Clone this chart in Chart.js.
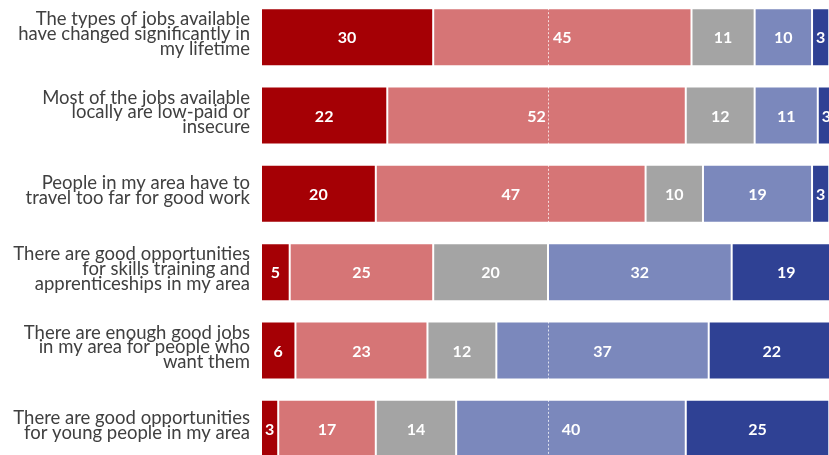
<!DOCTYPE html>
<html>
<head>
<meta charset="utf-8">
<script src="https://cdn.jsdelivr.net/npm/chart.js@4"></script>
<style>
  html, body { margin: 0; padding: 0; background: #fff; overflow: hidden; }
  #wrap { position: absolute; left: 0; top: -2px; width: 840px; height: 470px; }
</style>
</head>
<body>
<div id="wrap"><canvas id="myChart"></canvas></div>
<script>
const statements = [
  ["The types of jobs available", "have changed significantly in", "my lifetime"],
  ["Most of the jobs available", "locally are low-paid or", "insecure"],
  ["People in my area have to", "travel too far for good work"],
  ["There are good opportunities", "for skills training and", "apprenticeships in my area"],
  ["There are enough good jobs", "in my area for people who", "want them"],
  ["There are good opportunities", "for young people in my area"],
];
const strongAgree = [30, 22, 20, 5, 6, 3];
const agree = [45, 52, 47, 25, 23, 17];
const neither = [11, 12, 10, 20, 12, 14];
const disagree = [10, 11, 19, 32, 37, 40];
const strongDisagree = [3, 3, 3, 19, 22, 25];
const seriesNames = ["Strongly agree", "Agree", "Neither", "Disagree", "Strongly disagree"];

const colors = ["#a50005", "#d67576", "#a4a4a4", "#7b88bc", "#2f4194"];

// numbers in the middle of each segment
const segmentLabels = {
  id: "segmentLabels",
  afterDatasetsDraw(chart) {
    const ctx = chart.ctx;
    ctx.save();
    ctx.fillStyle = "#fff";
    ctx.font = "bold 16px Lato";
    ctx.textAlign = "center";
    ctx.textBaseline = "middle";
    chart.data.datasets.forEach((ds, i) => {
      chart.getDatasetMeta(i).data.forEach((bar, j) => {
        const v = ds.data[j];
        if (!v) return;
        ctx.fillText(String(v), (bar.x + bar.base) / 2, bar.y + 1);
      });
    });
    ctx.restore();
  },
};

// dashed marker at the 50% point
const midLine = {
  id: "midLine",
  afterDatasetsDraw(chart) {
    const ctx = chart.ctx;
    const x = Math.round(chart.scales.x.getPixelForValue(50)) + 0.5;
    ctx.save();
    ctx.strokeStyle = "rgba(255,255,255,0.75)";
    ctx.lineWidth = 1;
    ctx.setLineDash([2, 2]);
    chart.getDatasetMeta(0).data.forEach((bar) => {
      const h = bar.height / 2;
      ctx.beginPath();
      ctx.moveTo(x, bar.y - h);
      ctx.lineTo(x, bar.y + h);
      ctx.stroke();
    });
    ctx.restore();
  },
};

const data = {
  labels: statements,
  datasets: [strongAgree, agree, neither, disagree, strongDisagree].map((vals, i) => ({
    label: seriesNames[i],
    data: vals,
    backgroundColor: colors[i],
    borderColor: "rgba(255,255,255,0.85)",
    borderWidth: 1,
    borderSkipped: false,
    barPercentage: 0.74,
    categoryPercentage: 1,
  })),
};

const config = {
  type: "bar",
  data: data,
  options: {
    indexAxis: "y",
    responsive: true,
    maintainAspectRatio: false,
    animation: false,
    layout: { padding: { right: 5, top: 0, bottom: 0, left: 0 } },
    plugins: {
      legend: { display: false },
      tooltip: { enabled: false },
    },
    scales: {
      x: {
        stacked: true,
        min: 0,
        max: 100,
        display: false,
      },
      y: {
        stacked: true,
        grid: { display: false, drawTicks: false },
        border: { display: false },
        afterFit(scale) {
          scale.width = 261;
          // bars use the full height, labels may spill over
          scale.paddingTop = 0;
          scale.paddingBottom = 0;
        },
        ticks: {
          padding: 11,
          labelOffset: -3,
          color: "#404040",
          font: { family: "Lato", size: 18.5, lineHeight: 0.8 },
        },
      },
    },
  },
  plugins: [midLine, segmentLabels],
};

const myChart = new Chart(document.getElementById("myChart"), config);
</script>
</body>
</html>
